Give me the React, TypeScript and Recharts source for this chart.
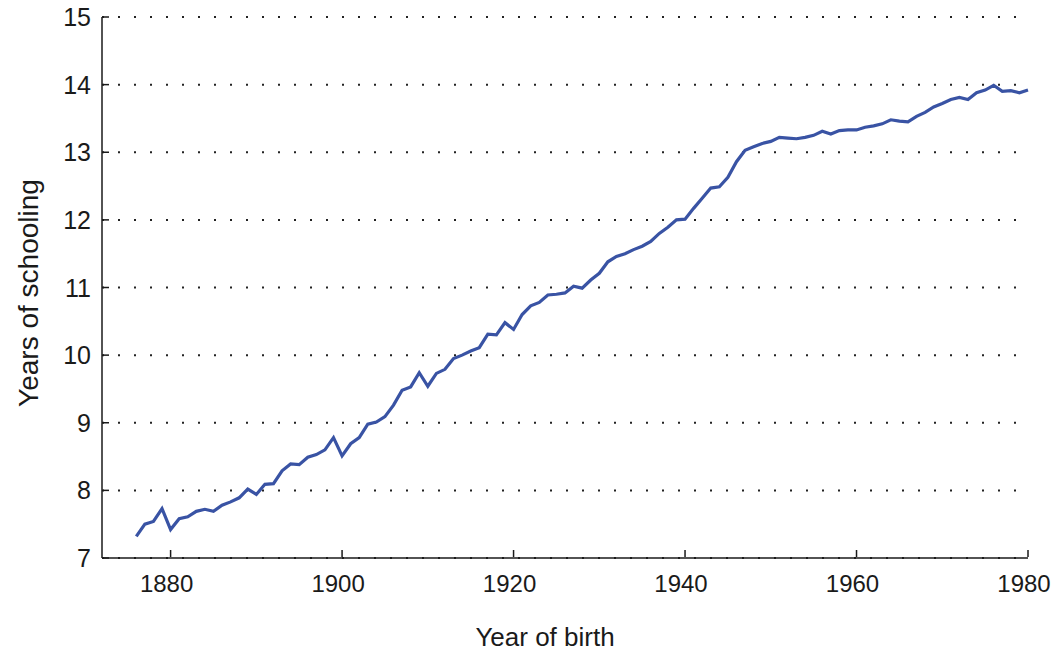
import { CartesianGrid, Line, LineChart, XAxis, YAxis } from 'recharts'

// birth cohorts 1876–1980
const years = [
  1876, 1877, 1878, 1879,
  1880, 1881, 1882, 1883, 1884, 1885, 1886, 1887, 1888, 1889,
  1890, 1891, 1892, 1893, 1894, 1895, 1896, 1897, 1898, 1899,
  1900, 1901, 1902, 1903, 1904, 1905, 1906, 1907, 1908, 1909,
  1910, 1911, 1912, 1913, 1914, 1915, 1916, 1917, 1918, 1919,
  1920, 1921, 1922, 1923, 1924, 1925, 1926, 1927, 1928, 1929,
  1930, 1931, 1932, 1933, 1934, 1935, 1936, 1937, 1938, 1939,
  1940, 1941, 1942, 1943, 1944, 1945, 1946, 1947, 1948, 1949,
  1950, 1951, 1952, 1953, 1954, 1955, 1956, 1957, 1958, 1959,
  1960, 1961, 1962, 1963, 1964, 1965, 1966, 1967, 1968, 1969,
  1970, 1971, 1972, 1973, 1974, 1975, 1976, 1977, 1978, 1979,
  1980,
]

const schooling = [
  7.32, 7.5, 7.54, 7.73,
  7.42, 7.58, 7.61, 7.69, 7.72, 7.69, 7.78, 7.83, 7.89, 8.02,
  7.94, 8.09, 8.1, 8.29, 8.39, 8.38, 8.49, 8.53, 8.6, 8.78,
  8.51, 8.69, 8.78, 8.98, 9.01, 9.09, 9.26, 9.48, 9.53, 9.74,
  9.54, 9.73, 9.79, 9.95, 10.0, 10.06, 10.11, 10.31, 10.3, 10.48,
  10.38, 10.6, 10.73, 10.78, 10.89, 10.9, 10.92, 11.02, 10.99, 11.11,
  11.21, 11.38, 11.46, 11.5, 11.56, 11.61, 11.68, 11.8, 11.89, 12.0,
  12.01, 12.17, 12.32, 12.47, 12.49, 12.63, 12.86, 13.03, 13.08, 13.13,
  13.16, 13.22, 13.21, 13.2, 13.22, 13.25, 13.31, 13.27, 13.32, 13.33,
  13.33, 13.37, 13.39, 13.42, 13.48, 13.46, 13.45, 13.53, 13.59, 13.67,
  13.72, 13.78, 13.81, 13.78, 13.88, 13.92, 13.99, 13.9, 13.91, 13.88,
  13.92,
]

const xTicks = [1880, 1900, 1920, 1940, 1960, 1980]
const yTicks = [7, 8, 9, 10, 11, 12, 13, 14, 15]

const data = years.map((year, i) => ({ year, value: schooling[i] }))

const FONT = '"Liberation Sans", Arial, sans-serif'
const INK = '#1a1a1a'

function YTick(props: any) {
  const { x, y, payload } = props
  return (
    <g>
      <line x1={x + 1} x2={x + 7} y1={y} y2={y} stroke={INK} strokeWidth={1.5} />
      <text
        x={x - 11}
        y={y}
        textAnchor="end"
        dominantBaseline="central"
        fontFamily={FONT}
        fontSize={25}
        fill={INK}
      >
        {payload.value}
      </text>
    </g>
  )
}

function XTick(props: any) {
  const { x, y, payload } = props
  return (
    <g>
      <line x1={x} x2={x} y1={y - 1} y2={y - 8} stroke={INK} strokeWidth={1.5} />
      <text
        x={x - 4}
        y={y + 25}
        textAnchor="middle"
        dominantBaseline="central"
        fontFamily={FONT}
        fontSize={24}
        fill={INK}
      >
        {payload.value}
      </text>
    </g>
  )
}

export default function App() {
  return (
    <div style={{ position: 'absolute', left: 0, top: 0, background: '#fff' }}>
      <LineChart
        width={1052}
        height={652}
        data={data}
        margin={{ top: 17, right: 24, bottom: 93, left: 101 }}
      >
        <CartesianGrid
          vertical={false}
          stroke="#222"
          strokeWidth={2}
          strokeDasharray="2 14"
        />
        <XAxis
          dataKey="year"
          type="number"
          domain={[1872, 1980]}
          ticks={xTicks}
          interval={0}
          height={1}
          tickSize={0}
          tickMargin={0}
          tickLine={false}
          axisLine={{ stroke: INK, strokeWidth: 1.5 }}
          tick={<XTick />}
          label={{
            content: () => (
              <text
                x={545}
                y={637}
                textAnchor="middle"
                dominantBaseline="central"
                fontFamily={FONT}
                fontSize={26}
                fill={INK}
              >
                Year of birth
              </text>
            ),
          }}
        />
        <YAxis
          type="number"
          domain={[7, 15]}
          ticks={yTicks}
          interval={0}
          width={1}
          tickSize={0}
          tickMargin={0}
          tickLine={false}
          axisLine={{ stroke: INK, strokeWidth: 1.5 }}
          tick={<YTick />}
          label={{
            content: () => (
              <text
                x={28}
                y={293}
                transform="rotate(-90 28 293)"
                textAnchor="middle"
                dominantBaseline="central"
                fontFamily={FONT}
                fontSize={28}
                fill={INK}
              >
                Years of schooling
              </text>
            ),
          }}
        />
        <Line
          type="linear"
          dataKey="value"
          stroke="#3953a4"
          strokeWidth={3.2}
          dot={false}
          isAnimationActive={false}
        />
      </LineChart>
    </div>
  )
}
